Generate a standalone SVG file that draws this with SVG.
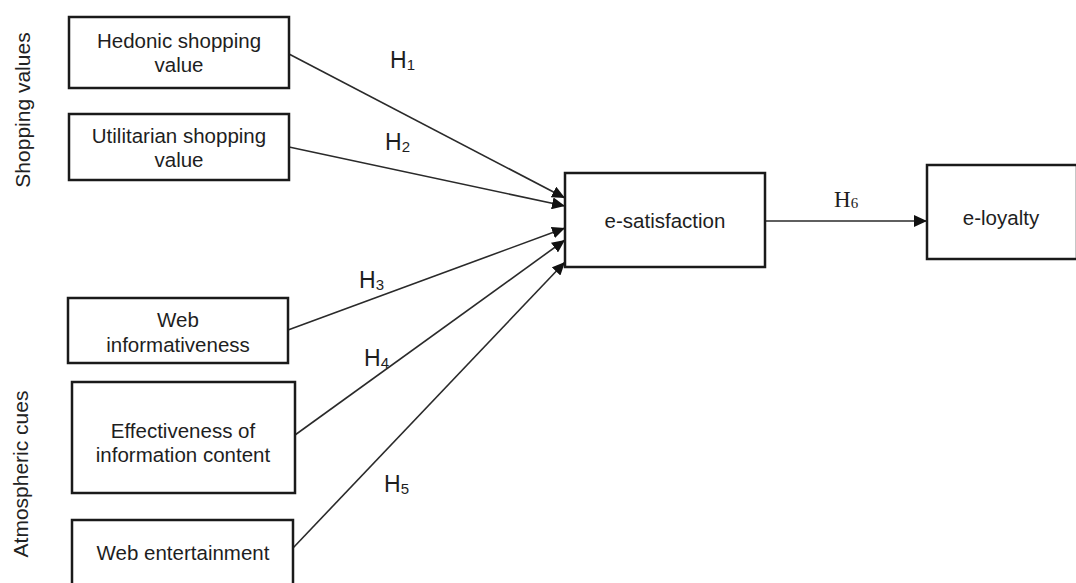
<svg xmlns="http://www.w3.org/2000/svg" width="1076" height="583" viewBox="0 0 1076 583">
<style>
.box{fill:#fff;stroke:#1a1a1a;stroke-width:2.5}
.t{font-family:"Liberation Sans",Arial,sans-serif;font-size:20.5px;fill:#1e1e1e;text-anchor:middle}
.side{font-family:"Liberation Sans",Arial,sans-serif;font-size:21px;fill:#222;text-anchor:middle}
.h{font-family:"Liberation Sans",Arial,sans-serif;font-size:23px;fill:#1e1e1e}
.hs{font-size:15px}
.hser{font-family:"Liberation Serif","Times New Roman",serif;font-size:23px;fill:#1e1e1e}
.edge{stroke:#2a2a2a;stroke-width:1.6;fill:none;marker-end:url(#arr)}
</style>
<defs>
<marker id="arr" markerUnits="userSpaceOnUse" markerWidth="14" markerHeight="12" refX="13" refY="6" orient="auto">
<path d="M0,0 L13,6 L0,12 z" fill="#111"/>
</marker>
</defs>
<rect width="1076" height="583" fill="#fff"/>
<text class="side" transform="translate(30,110) rotate(-90)">Shopping values</text>
<text class="side" transform="translate(28,474) rotate(-90)">Atmospheric cues</text>
<g id="connectors">
<line class="edge" x1="289" y1="54" x2="565" y2="198"/>
<line class="edge" x1="289" y1="147" x2="565" y2="206"/>
<line class="edge" x1="288" y1="330" x2="565" y2="228"/>
<line class="edge" x1="295" y1="435" x2="565" y2="240"/>
<line class="edge" x1="293" y1="548" x2="565" y2="262"/>
<line class="edge" x1="765" y1="221" x2="927" y2="221"/>
<text class="h" x="390" y="68">H<tspan class="hs" dy="2">1</tspan></text>
<text class="h" x="385" y="150">H<tspan class="hs" dy="2">2</tspan></text>
<text class="h" x="359" y="288">H<tspan class="hs" dy="2">3</tspan></text>
<text class="h" x="364" y="366">H<tspan class="hs" dy="2">4</tspan></text>
<text class="h" x="384" y="492">H<tspan class="hs" dy="2">5</tspan></text>
<text class="hser" x="834" y="207">H<tspan class="hs" dy="1">6</tspan></text>
</g>
<g id="hedonic">
<rect class="box" x="69" y="17" width="220" height="71"/>
<text class="t" x="179" y="48">Hedonic shopping</text>
<text class="t" x="179" y="72">value</text>
</g>
<g id="utilitarian">
<rect class="box" x="69" y="114" width="220" height="66"/>
<text class="t" x="179" y="143">Utilitarian shopping</text>
<text class="t" x="179" y="167">value</text>
</g>
<g id="web-informativeness">
<rect class="box" x="68" y="298" width="220" height="65"/>
<text class="t" x="178" y="327">Web</text>
<text class="t" x="178" y="352">informativeness</text>
</g>
<g id="effectiveness">
<rect class="box" x="72" y="382" width="223" height="111"/>
<text class="t" x="183" y="438">Effectiveness of</text>
<text class="t" x="183" y="462">information content</text>
</g>
<g id="web-entertainment">
<rect class="box" x="72" y="520" width="221" height="75"/>
<text class="t" x="183" y="560">Web entertainment</text>
</g>
<g id="e-satisfaction">
<rect class="box" x="565" y="173" width="200" height="94"/>
<text class="t" x="665" y="228">e-satisfaction</text>
</g>
<g id="e-loyalty">
<rect class="box" x="927" y="165" width="150" height="94"/>
<text class="t" x="1001" y="225">e-loyalty</text>
</g>
</svg>
